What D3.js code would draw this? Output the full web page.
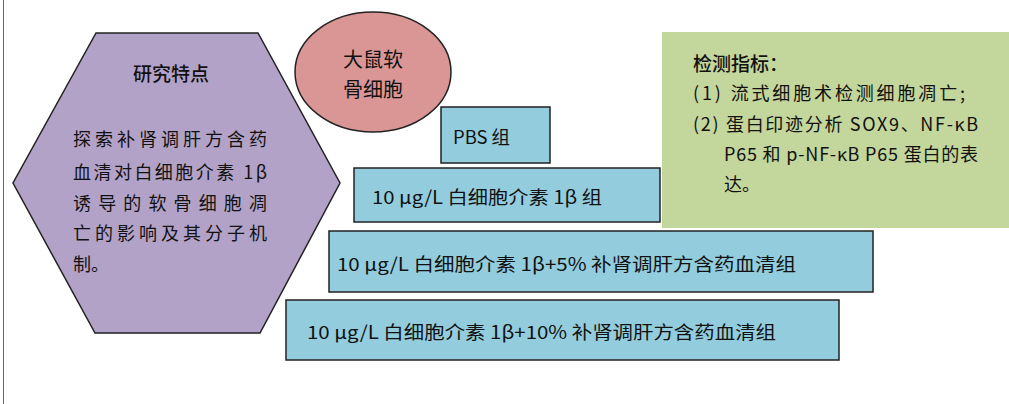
<!DOCTYPE html>
<html><head><meta charset="utf-8">
<script src="https://cdn.jsdelivr.net/npm/d3@7"></script>
<style>html,body{margin:0;padding:0;background:#fff;}svg{display:block;}</style>
</head><body>
<svg id="c" width="1009" height="404"></svg>
<script>
// ---- content ----
const hexTitle = "研究特点";
const hexLines = ["探索补肾调肝方含药", "血清对白细胞介素 1β", "诱导的软骨细胞凋", "亡的影响及其分子机", "制。"];
const cellLines = ["大鼠软", "骨细胞"];
const groupLabels = [
  "PBS 组",
  "10 μg/L 白细胞介素 1β 组",
  "10 μg/L 白细胞介素 1β+5% 补肾调肝方含药血清组",
  "10 μg/L 白细胞介素 1β+10% 补肾调肝方含药血清组"
];
const indexTitle = "检测指标：";
const indexLines = ["(1) 流式细胞术检测细胞凋亡;", "(2) 蛋白印迹分析 SOX9、NF-κB", "P65 和 p-NF-κB P65 蛋白的表", "达。"];

// ---- layout (pixels) ----
const groupBoxes = [
  {x0:441, x1:550, y0:107, y1:163, tx:453, tw:57},
  {x0:354, x1:660, y0:168, y1:222, tx:372, tw:230},
  {x0:329, x1:873, y0:231, y1:292, tx:337, tw:459},
  {x0:286, x1:839, y0:300, y1:360, tx:307, tw:469}
];
const hexLineLayout = [
  {y:138, w:194}, {y:171, w:194}, {y:202, w:194}, {y:232, w:194}, {y:263, w:null}
];
const indexLineLayout = [
  {x:693, y:92, w:272}, {x:693, y:123, w:285}, {x:724, y:153, w:254}, {x:724, y:183, w:null}
];

const svg = d3.select("#c");
const FONT = "'Noto Sans CJK SC','Noto Sans',sans-serif";

// left border
svg.append("line").attr("x1",3.5).attr("x2",3.5).attr("y1",0).attr("y2",404)
  .attr("stroke","#666").attr("stroke-width",1);

// hexagon
const hex = [[96,33],[258,33],[340,183],[260,333],[95,333],[13,183]];
svg.append("path").attr("d", d3.line()(hex) + "Z")
  .attr("fill","#b3a2c7").attr("stroke","#222").attr("stroke-width",1.5);
svg.append("text").text(hexTitle).attr("x",171).attr("y",72)
  .attr("text-anchor","middle").attr("dominant-baseline","central")
  .attr("font-family",FONT).attr("font-size",19).attr("font-weight",500).attr("fill","#111");
svg.selectAll("text.hl").data(hexLines).join("text").attr("class","hl")
  .text(d=>d).attr("x",73).attr("y",(d,i)=>hexLineLayout[i].y)
  .attr("dominant-baseline","central")
  .attr("font-family",FONT).attr("font-size",18).attr("fill","#111")
  .each(function(d,i){ if(hexLineLayout[i].w) d3.select(this).attr("textLength",hexLineLayout[i].w).attr("lengthAdjust","spacing"); });

// ellipse
svg.append("ellipse").attr("cx",373).attr("cy",72).attr("rx",78).attr("ry",60)
  .attr("fill","#d99694").attr("stroke","#222").attr("stroke-width",1.5);
svg.selectAll("text.cl").data(cellLines).join("text").attr("class","cl")
  .text(d=>d).attr("x",373).attr("y",(d,i)=>58+i*30)
  .attr("text-anchor","middle").attr("dominant-baseline","central")
  .attr("font-family",FONT).attr("font-size",20).attr("fill","#111");

// group boxes
const g = svg.selectAll("g.grp").data(groupLabels).join("g").attr("class","grp");
g.append("rect")
  .attr("x",(d,i)=>groupBoxes[i].x0).attr("y",(d,i)=>groupBoxes[i].y0)
  .attr("width",(d,i)=>groupBoxes[i].x1-groupBoxes[i].x0)
  .attr("height",(d,i)=>groupBoxes[i].y1-groupBoxes[i].y0)
  .attr("fill","#93cddd").attr("stroke","#222").attr("stroke-width",1.5);
g.append("text").text(d=>d)
  .attr("x",(d,i)=>groupBoxes[i].tx)
  .attr("y",(d,i)=>(groupBoxes[i].y0+groupBoxes[i].y1)/2+1)
  .attr("dominant-baseline","central")
  .attr("textLength",(d,i)=>groupBoxes[i].tw).attr("lengthAdjust","spacingAndGlyphs")
  .attr("font-family",FONT).attr("font-size",18).attr("fill","#111");

// indicators box
svg.append("rect").attr("x",662).attr("y",32).attr("width",1009-662).attr("height",228-32)
  .attr("fill","#c3d69b");
svg.append("text").text(indexTitle).attr("x",693).attr("y",62)
  .attr("dominant-baseline","central")
  .attr("font-family",FONT).attr("font-size",19).attr("font-weight",500).attr("fill","#111");
svg.selectAll("text.il").data(indexLines).join("text").attr("class","il")
  .text(d=>d).attr("x",(d,i)=>indexLineLayout[i].x).attr("y",(d,i)=>indexLineLayout[i].y)
  .attr("dominant-baseline","central")
  .attr("font-family",FONT).attr("font-size",18).attr("fill","#111")
  .each(function(d,i){ if(indexLineLayout[i].w) d3.select(this).attr("textLength",indexLineLayout[i].w).attr("lengthAdjust","spacing"); });
</script>
</body></html>
